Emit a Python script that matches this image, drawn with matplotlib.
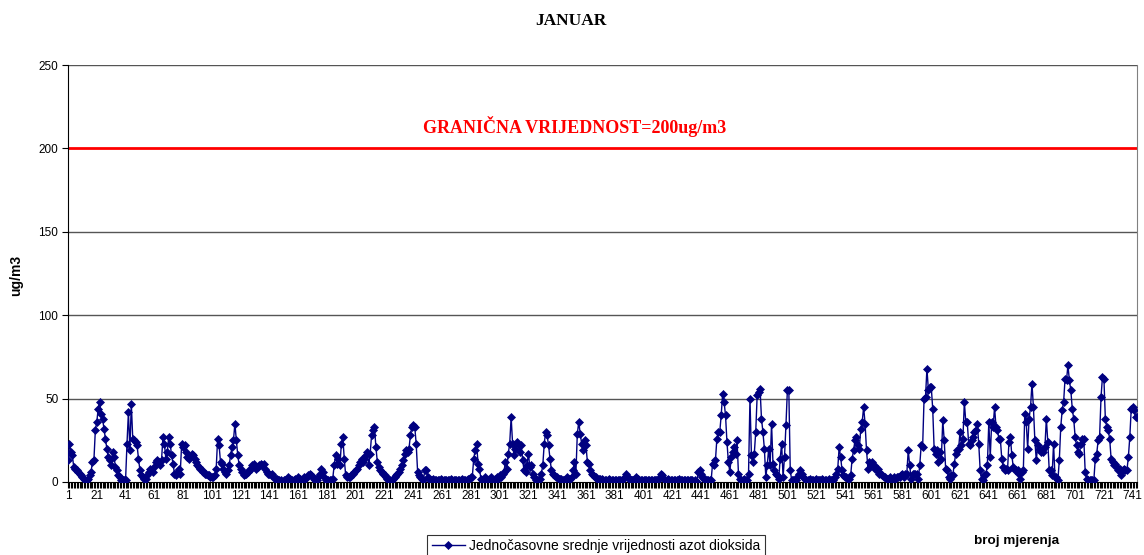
import numpy as np
import matplotlib
matplotlib.use("Agg")
import matplotlib.pyplot as plt

plt.rcParams["font.family"] = ["Liberation Sans", "DejaVu Sans"]

# hourly NO2 values, 20 values per row (hours 1..744)
no2_hourly = [
    13, 23, 18, 16, 9, 8, 7, 6, 5, 4, 3, 2, 1, 1, 2, 4, 6, 12, 13, 31,
    36, 44, 48, 41, 38, 32, 26, 20, 15, 13, 10, 18, 15, 9, 7, 4, 3, 1, 1, 1,
    1, 23, 42, 19, 47, 26, 25, 24, 22, 14, 7, 4, 3, 2, 2, 4, 6, 8, 7, 6,
    9, 12, 13, 12, 10, 13, 27, 23, 14, 18, 27, 23, 16, 11, 5, 4, 6, 8, 5, 23,
    21, 22, 18, 15, 14, 15, 17, 16, 14, 12, 10, 9, 8, 7, 6, 5, 5, 4, 4, 3,
    3, 3, 4, 8, 26, 22, 12, 11, 8, 6, 5, 7, 10, 16, 21, 25, 35, 25, 16, 10,
    8, 6, 4, 5, 5, 6, 7, 8, 10, 11, 9, 8, 9, 10, 11, 10, 11, 8, 6, 5,
    5, 4, 5, 3, 2, 2, 1, 1, 1, 0, 1, 1, 2, 3, 2, 1, 1, 1, 2, 2,
    3, 2, 1, 2, 3, 2, 3, 4, 5, 4, 3, 2, 1, 1, 3, 5, 8, 6, 3, 1,
    1, 1, 1, 1, 2, 10, 16, 11, 14, 10, 23, 27, 14, 4, 3, 3, 3, 4, 5, 6,
    7, 8, 10, 12, 14, 12, 14, 16, 18, 10, 17, 28, 31, 33, 21, 12, 9, 7, 6, 5,
    4, 3, 2, 1, 1, 1, 2, 3, 4, 5, 6, 8, 10, 13, 17, 19, 18, 20, 28, 33,
    34, 33, 23, 6, 4, 3, 2, 1, 7, 7, 3, 2, 1, 1, 2, 1, 1, 1, 1, 2,
    1, 1, 1, 1, 1, 1, 2, 1, 1, 1, 1, 1, 1, 1, 2, 1, 1, 1, 2, 2,
    3, 3, 14, 19, 23, 11, 8, 2, 1, 1, 3, 1, 1, 2, 3, 1, 1, 2, 3, 2,
    4, 3, 5, 6, 12, 8, 17, 23, 39, 23, 16, 20, 24, 23, 18, 22, 13, 7, 6, 10,
    17, 9, 10, 5, 3, 1, 1, 1, 2, 5, 10, 23, 30, 28, 22, 14, 7, 5, 4, 3,
    3, 2, 2, 2, 1, 1, 2, 3, 2, 2, 3, 7, 12, 5, 29, 36, 29, 23, 19, 25,
    22, 12, 11, 7, 5, 4, 3, 3, 2, 2, 2, 2, 1, 1, 1, 1, 2, 1, 1, 1,
    1, 1, 1, 1, 1, 1, 2, 3, 5, 3, 2, 1, 1, 1, 2, 3, 2, 1, 1, 1,
    1, 1, 1, 1, 1, 1, 1, 1, 1, 1, 2, 2, 5, 4, 2, 1, 1, 2, 1, 1,
    1, 1, 1, 1, 1, 2, 1, 1, 1, 1, 1, 1, 1, 1, 1, 0, 1, 0, 6, 7,
    5, 3, 2, 2, 1, 1, 1, 1, 11, 10, 13, 26, 30, 30, 40, 53, 48, 40, 24, 12,
    6, 15, 18, 21, 17, 25, 5, 2, 1, 1, 2, 1, 1, 5, 50, 16, 12, 17, 30, 52,
    54, 56, 38, 30, 20, 3, 10, 20, 10, 35, 11, 7, 5, 4, 2, 14, 23, 3, 15, 34,
    55, 55, 7, 1, 1, 1, 1, 3, 5, 7, 5, 3, 2, 1, 1, 1, 2, 1, 1, 1,
    2, 1, 1, 1, 2, 1, 1, 1, 1, 2, 1, 1, 1, 3, 5, 8, 21, 15, 7, 4,
    3, 3, 2, 2, 4, 14, 19, 25, 27, 22, 20, 32, 36, 45, 35, 19, 8, 12, 10, 12,
    10, 8, 7, 8, 5, 5, 4, 3, 3, 2, 2, 3, 2, 2, 3, 2, 3, 3, 3, 4,
    5, 3, 5, 5, 19, 10, 2, 5, 5, 5, 5, 2, 10, 22, 21, 50, 51, 68, 55, 57,
    57, 44, 20, 17, 19, 12, 18, 14, 37, 25, 8, 7, 3, 2, 4, 4, 11, 17, 19, 20,
    30, 22, 26, 48, 36, 36, 23, 22, 25, 27, 30, 31, 35, 23, 7, 2, 1, 4, 5, 10,
    36, 15, 36, 33, 45, 33, 31, 26, 26, 14, 9, 7, 8, 7, 24, 27, 16, 9, 7, 7,
    7, 5, 2, 6, 7, 41, 36, 20, 38, 45, 59, 45, 25, 13, 22, 20, 18, 19, 18, 21,
    38, 24, 7, 7, 4, 23, 3, 3, 1, 13, 33, 43, 48, 62, 61, 70, 61, 55, 44, 38,
    27, 22, 18, 17, 23, 26, 26, 6, 2, 1, 1, 1, 1, 1, 14, 17, 25, 27, 51, 63,
    62, 38, 33, 31, 26, 14, 12, 10, 11, 9, 7, 8, 4, 7, 8, 7, 7, 15, 27, 44,
    45, 43, 39, 39,
]

limit_value = 200
limit_label = "GRANIČNA VRIJEDNOST=200ug/m3"
series_label = "Jednočasovne srednje vrijednosti azot dioksida"
x_tick_values = list(range(1, 742, 20))
y_tick_values = [0, 50, 100, 150, 200, 250]

W, H = 1144, 555
fig = plt.figure(figsize=(W / 100, H / 100), dpi=100)
ax = fig.add_axes([68 / W, 1 - 482 / H, (1137 - 68) / W, (482 - 65) / H])

hours = np.arange(1, len(no2_hourly) + 1)

# horizontal gridlines (except the limit which is drawn in red)
for yv in y_tick_values[1:]:
    if yv != limit_value:
        ax.axhline(yv, color="#555555", lw=1, zorder=1)
ax.axhline(limit_value, color="#ff0000", lw=2, zorder=2)

ax.plot(hours, no2_hourly, color="#000080", lw=1, marker="D", ms=4.3,
        markeredgewidth=0.5, label=series_label, zorder=3)

ax.text(353, 213, limit_label, color="#ff0000", fontsize=13,
        fontweight="bold", family="Liberation Serif", ha="center", va="center")

ax.set_xlim(1, len(no2_hourly))
ax.set_ylim(0, 250)
ax.set_xticks(x_tick_values)
ax.set_xticklabels([str(v) for v in x_tick_values], fontsize=8.5)
ax.set_xticks(hours, minor=True)
ax.set_yticks(y_tick_values)
ax.set_yticklabels([str(v) for v in y_tick_values], fontsize=8.5)
ax.tick_params(axis="x", which="both", direction="out", length=4, width=0.8,
               pad=2, colors="black")
ax.tick_params(axis="y", direction="out", length=4, width=0.8, pad=3)

ax.spines["top"].set_visible(False)
ax.spines["right"].set_color("#808080")
ax.spines["left"].set_color("black")
ax.spines["bottom"].set_color("black")

fig.text(571 / W, 1 - 21 / H, "JANUAR", fontsize=12.5, fontweight="bold",
         family="Liberation Serif", ha="center", va="center")
fig.text(16 / W, 1 - 275 / H, "ug/m3", fontsize=10, fontweight="bold",
         rotation=90, ha="center", va="center")
fig.text(1017 / W, 1 - 541 / H, "broj mjerenja", fontsize=9.7,
         fontweight="bold", ha="center", va="center")

leg = fig.legend(loc="upper center", bbox_to_anchor=(596 / W, 1 - 535 / H),
                 fontsize=10, frameon=True, fancybox=False, edgecolor="black",
                 handlelength=2.4, borderpad=0.3, handletextpad=0.3,
                 borderaxespad=0)
leg.get_frame().set_linewidth(0.8)

fig.savefig("out.png", dpi=100)
